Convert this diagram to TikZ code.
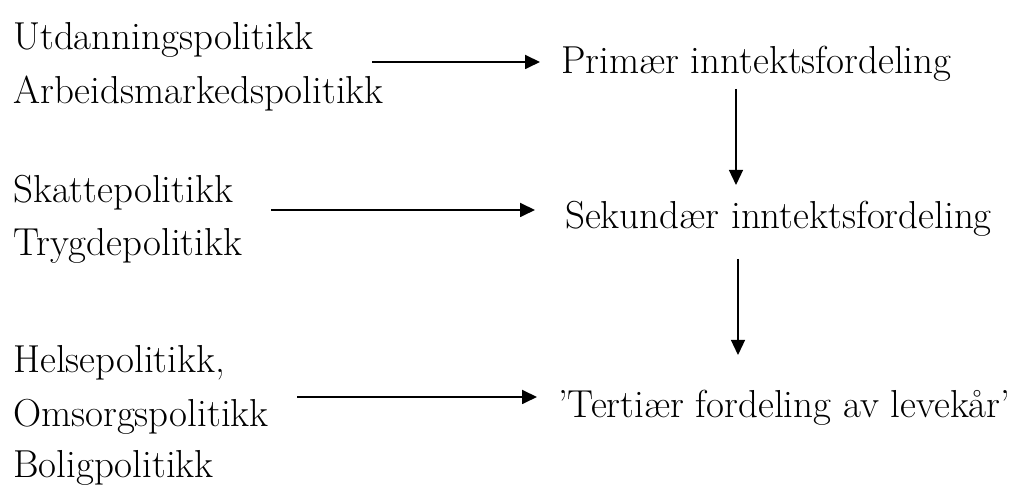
\documentclass[tikz,border=0pt]{standalone}
\usepackage{fontspec}
\usetikzlibrary{arrows.meta}
\begin{document}
\begin{tikzpicture}[x=1pt,y=1pt,
  lbl/.style={anchor=base west,inner sep=0pt,font=\fontsize{39}{39}\selectfont},
  harr/.style={line width=1.8pt,-{Triangle[length=15pt,width=14pt]}},
  varr/.style={line width=1.3pt,-{Triangle[length=15pt,width=14pt]}}]
\useasboundingbox (0,0) rectangle (1010,489);
% left groups
\node[lbl] (u) at (13,439) {Utdanningspolitikk};
\node[lbl] (ar) at (13,385) {Arbeidsmarkedspolitikk};
\node[lbl] (sk) at (13,286) {Skattepolitikk};
\node[lbl] (tr) at (13,233) {Trygdepolitikk};
\node[lbl] (he) at (13,116) {Helsepolitikk,};
\node[lbl] (om) at (13,62) {Omsorgspolitikk};
\node[lbl] (bo) at (13,11) {Boligpolitikk};
% right column
\node[lbl] (p) at (561,415) {Primær inntektsfordeling};
\node[lbl] (s) at (565,260) {Sekundær inntektsfordeling};
\node[lbl] (t) at (558,71) {’Tertiær fordeling av levekår’};
% connector ends
\coordinate (a1s) at (372,427);
\coordinate (a1e) at (540,427);
\coordinate (a2s) at (271,279);
\coordinate (a2e) at (535,279);
\coordinate (a3s) at (297,92);
\coordinate (a3e) at (537,92);
\coordinate (d1s) at (736,400);
\coordinate (d1e) at (736,304);
\coordinate (d2s) at (738,230);
\coordinate (d2e) at (738,134);
\draw[harr] (a1s) -- (a1e);
\draw[harr] (a2s) -- (a2e);
\draw[harr] (a3s) -- (a3e);
\draw[varr] (d1s) -- (d1e);
\draw[varr] (d2s) -- (d2e);
\end{tikzpicture}
\end{document}
